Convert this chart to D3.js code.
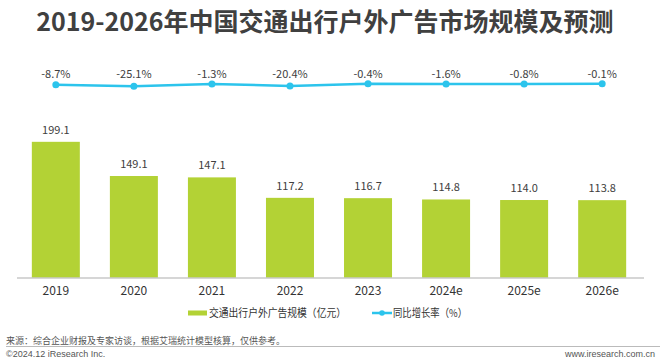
<!DOCTYPE html>
<html>
<head>
<meta charset="utf-8">
<style>
    body { margin: 0; background: #fff; }
    svg { font-family: "Noto Sans CJK SC", "Noto Sans", sans-serif; }
</style>
<script src="https://cdn.jsdelivr.net/npm/d3@7/dist/d3.min.js"></script>
</head>
<body>
<div id="chart"></div>
<script>
    var years = ['2019', '2020', '2021', '2022', '2023', '2024e', '2025e', '2026e'];
    var scale = [199.1, 149.1, 147.1, 117.2, 116.7, 114.8, 114.0, 113.8];
    var growth = [-8.7, -25.1, -1.3, -20.4, -0.4, -1.6, -0.8, -0.1];

    var W = 660, H = 363;
    var svg = d3.select('#chart').append('svg')
        .attr('width', W)
        .attr('height', H);

    // title
    svg.append('text')
        .attr('x', 325).attr('y', 31)
        .attr('text-anchor', 'middle')
        .attr('font-size', 25).attr('font-weight', 'bold')
        .attr('fill', '#404040')
        .text('2019-2026年中国交通出行户外广告市场规模及预测');

    var x = d3.scaleBand()
        .domain(years)
        .range([17, 641])
        .paddingInner(0.385)
        .paddingOuter(0.19);

    var y = d3.scaleLinear().domain([0, 250]).range([278, 107]);
    var y2 = d3.scaleLinear().domain([-100, 0]).range([94, 83.8]);

    // bars
    svg.selectAll('rect.bar')
        .data(scale)
        .enter().append('rect')
        .attr('class', 'bar')
        .attr('x', function(d, i) { return x(years[i]); })
        .attr('y', function(d) { return y(d); })
        .attr('width', x.bandwidth())
        .attr('height', function(d) { return y(0) - y(d); })
        .attr('fill', '#b3d235');

    svg.selectAll('text.val')
        .data(scale)
        .enter().append('text')
        .attr('class', 'val')
        .attr('x', function(d, i) { return x(years[i]) + x.bandwidth() / 2; })
        .attr('y', function(d) { return y(d) - 8; })
        .attr('text-anchor', 'middle')
        .attr('font-size', 11)
        .attr('fill', '#404040')
        .text(function(d) { return d.toFixed(1); });

    // axis
    var xAxis = svg.append('g')
        .attr('transform', 'translate(0,278)')
        .call(d3.axisBottom(x).tickSize(0).tickPadding(8));
    xAxis.select('.domain').attr('stroke', '#c8c8c8').attr('stroke-width', 1.5)
        .attr('d', 'M17,0H644');
    xAxis.selectAll('text')
        .attr('font-size', 12)
        .attr('fill', '#333')
        .attr('font-family', '"Noto Sans CJK SC", sans-serif');

    // growth line
    var cx = function(i) { return x(years[i]) + x.bandwidth() / 2; };
    var line = d3.line()
        .x(function(d, i) { return cx(i); })
        .y(function(d) { return y2(d); });

    svg.append('path')
        .datum(growth)
        .attr('d', line)
        .attr('fill', 'none')
        .attr('stroke', '#2cc4ec')
        .attr('stroke-width', 2.5);

    svg.selectAll('circle.pt')
        .data(growth)
        .enter().append('circle')
        .attr('class', 'pt')
        .attr('cx', function(d, i) { return cx(i); })
        .attr('cy', function(d) { return y2(d); })
        .attr('r', 3.5)
        .attr('fill', '#2cc4ec');

    svg.selectAll('text.pct')
        .data(growth)
        .enter().append('text')
        .attr('class', 'pct')
        .attr('x', function(d, i) { return cx(i); })
        .attr('y', 78)
        .attr('text-anchor', 'middle')
        .attr('font-size', 11)
        .attr('fill', '#404040')
        .text(function(d) { return d.toFixed(1) + '%'; });

    // legend
    var lg = svg.append('g').attr('transform', 'translate(0,313)');
    lg.append('rect').attr('x', 188).attr('y', -2.5).attr('width', 19).attr('height', 5).attr('fill', '#b3d235');
    lg.append('text').attr('x', 209).attr('y', 4).attr('font-size', 11).attr('fill', '#333')
        .attr('textLength', 137).attr('lengthAdjust', 'spacingAndGlyphs')
        .text('交通出行户外广告规模（亿元）');
    lg.append('line').attr('x1', 372).attr('x2', 392).attr('y1', 0).attr('y2', 0)
        .attr('stroke', '#2cc4ec').attr('stroke-width', 2.5);
    lg.append('circle').attr('cx', 382).attr('cy', 0).attr('r', 2.8).attr('fill', '#2cc4ec');
    lg.append('text').attr('x', 393).attr('y', 4).attr('font-size', 11).attr('fill', '#333')
        .attr('textLength', 74).attr('lengthAdjust', 'spacingAndGlyphs')
        .text('同比增长率（%）');

    // footer
    svg.append('text').attr('x', 6).attr('y', 344).attr('font-size', 9).attr('fill', '#555')
        .text('来源：综合企业财报及专家访谈，根据艾瑞统计模型核算，仅供参考。');
    svg.append('line').attr('x1', 6).attr('x2', 660).attr('y1', 346.5).attr('y2', 346.5)
        .attr('stroke', '#bbb').attr('stroke-width', 1);
    svg.append('text').attr('x', 6).attr('y', 357).attr('font-size', 9).attr('fill', '#555')
        .attr('font-family', 'Arial, "Liberation Sans", sans-serif')
        .text('©2024.12 iResearch Inc.');
    svg.append('text').attr('x', 655).attr('y', 357).attr('font-size', 9).attr('fill', '#555')
        .attr('text-anchor', 'end')
        .attr('font-family', 'Arial, "Liberation Sans", sans-serif')
        .text('www.iresearch.com.cn');
</script>
</body>
</html>
